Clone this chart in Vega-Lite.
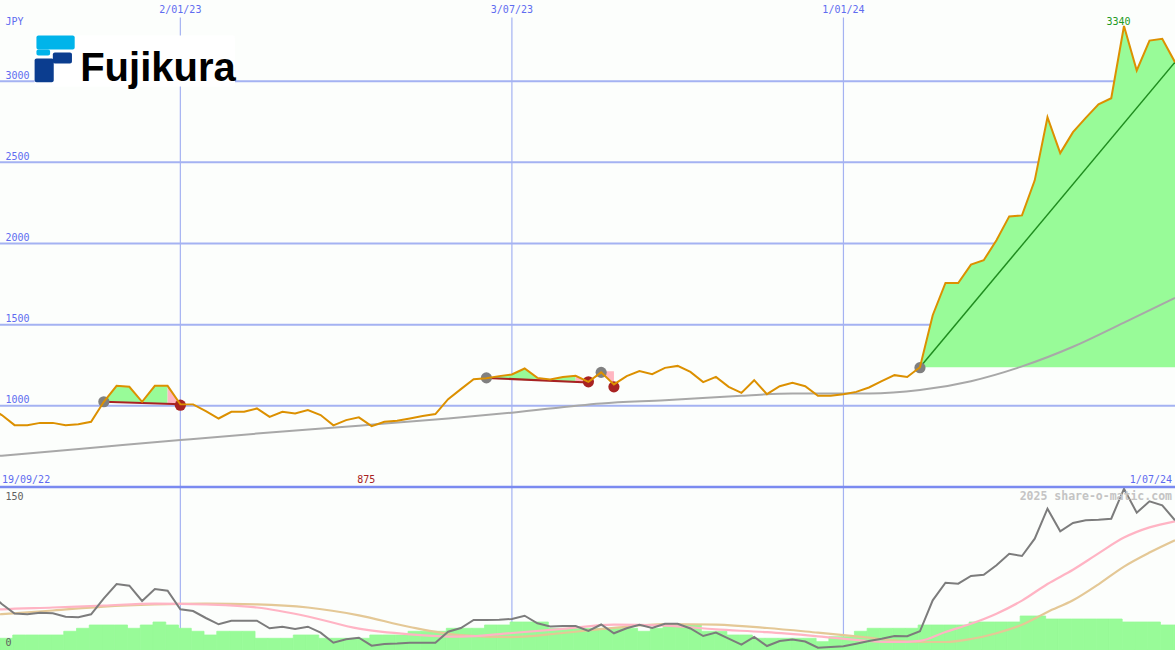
{
  "$schema": "https://vega.github.io/schema/vega-lite/v6.json",
  "width": 1175,
  "height": 650,
  "autosize": {"type": "none"},
  "padding": 0,
  "background": "#fcfefc",
  "config": {"view": {"stroke": null}},
  "datasets": {
    "w": [
      {"d":"2022-09-19","p":990,"g":57},{"d":"2022-09-26","p":943,"g":46},{"d":"2022-10-03","p":881,"g":36.5},{"d":"2022-10-10","p":881,"g":35.7},
      {"d":"2022-10-17","p":895,"g":37.3},{"d":"2022-10-24","p":895,"g":36.7},{"d":"2022-10-31","p":880,"g":33.3},{"d":"2022-11-07","p":887,"g":32.7},
      {"d":"2022-11-14","p":902,"g":35.7},{"d":"2022-11-21","p":1025,"g":51.7},{"d":"2022-11-28","p":1123,"g":66},{"d":"2022-12-05","p":1117,"g":64.3},
      {"d":"2022-12-12","p":1025,"g":49},{"d":"2022-12-19","p":1123,"g":61},{"d":"2022-12-26","p":1123,"g":59.3},{"d":"2023-01-02","p":1010,"g":40.7},
      {"d":"2023-01-09","p":1009,"g":39},{"d":"2023-01-16","p":967,"g":32},{"d":"2023-01-23","p":922,"g":25.7},{"d":"2023-01-30","p":963,"g":29.3},
      {"d":"2023-02-06","p":963,"g":29.3},{"d":"2023-02-13","p":984,"g":29.3},{"d":"2023-02-20","p":932,"g":21.7},{"d":"2023-02-27","p":963,"g":23.3},
      {"d":"2023-03-06","p":953,"g":21},{"d":"2023-03-13","p":974,"g":23.3},{"d":"2023-03-20","p":943,"g":17.3},{"d":"2023-03-27","p":880,"g":7.3},
      {"d":"2023-04-03","p":912,"g":10.7},{"d":"2023-04-10","p":929,"g":12.3},{"d":"2023-04-17","p":875,"g":4.3},{"d":"2023-04-24","p":902,"g":6},
      {"d":"2023-05-01","p":908,"g":6.5},{"d":"2023-05-08","p":922,"g":7.3},{"d":"2023-05-15","p":937,"g":7.3},{"d":"2023-05-22","p":949,"g":7.3},
      {"d":"2023-05-29","p":1041,"g":18.3},{"d":"2023-06-05","p":1103,"g":22},{"d":"2023-06-12","p":1164,"g":30},{"d":"2023-06-19","p":1170,"g":30},
      {"d":"2023-06-26","p":1183,"g":30.3},{"d":"2023-07-03","p":1193,"g":31},{"d":"2023-07-10","p":1230,"g":34.3},{"d":"2023-07-17","p":1172,"g":26.7},
      {"d":"2023-07-24","p":1162,"g":23.5},{"d":"2023-07-31","p":1178,"g":24},{"d":"2023-08-07","p":1185,"g":24},{"d":"2023-08-14","p":1148,"g":19},
      {"d":"2023-08-21","p":1206,"g":25.5},{"d":"2023-08-28","p":1132,"g":16.7},{"d":"2023-09-04","p":1183,"g":21.7},{"d":"2023-09-11","p":1214,"g":25.3},
      {"d":"2023-09-18","p":1195,"g":22},{"d":"2023-09-25","p":1234,"g":26.3},{"d":"2023-10-02","p":1246,"g":26.3},{"d":"2023-10-09","p":1209,"g":21.5},
      {"d":"2023-10-16","p":1146,"g":14},{"d":"2023-10-23","p":1178,"g":17.5},{"d":"2023-10-30","p":1117,"g":11.3},{"d":"2023-11-06","p":1080,"g":5.3},
      {"d":"2023-11-13","p":1158,"g":13},{"d":"2023-11-20","p":1072,"g":4},{"d":"2023-11-27","p":1121,"g":9},{"d":"2023-12-04","p":1142,"g":10.5},
      {"d":"2023-12-11","p":1121,"g":8.5},{"d":"2023-12-18","p":1062,"g":2.3},{"d":"2023-12-25","p":1062,"g":3},{"d":"2024-01-01","p":1072,"g":3.7},
      {"d":"2024-01-08","p":1086,"g":6.3},{"d":"2024-01-15","p":1113,"g":9},{"d":"2024-01-22","p":1152,"g":11.3},{"d":"2024-01-29","p":1189,"g":14},
      {"d":"2024-02-05","p":1178,"g":13.7},{"d":"2024-02-12","p":1238,"g":18.7},{"d":"2024-02-19","p":1558,"g":49.7},{"d":"2024-02-26","p":1757,"g":67.3},
      {"d":"2024-03-04","p":1757,"g":66.3},{"d":"2024-03-11","p":1870,"g":74},{"d":"2024-03-18","p":1897,"g":75.3},{"d":"2024-03-25","p":2020,"g":84.7},
      {"d":"2024-04-01","p":2167,"g":96.3},{"d":"2024-04-08","p":2173,"g":94},{"d":"2024-04-15","p":2389,"g":111.3},{"d":"2024-04-22","p":2778,"g":141.3},
      {"d":"2024-04-29","p":2557,"g":118.7},{"d":"2024-05-06","p":2686,"g":127},{"d":"2024-05-13","p":2774,"g":129.7},{"d":"2024-05-20","p":2857,"g":130.3},
      {"d":"2024-05-27","p":2895,"g":131.3},{"d":"2024-06-03","p":3340,"g":161.3},{"d":"2024-06-10","p":3066,"g":137.3},{"d":"2024-06-17","p":3250,"g":148.7},
      {"d":"2024-06-24","p":3261,"g":144.7},{"d":"2024-07-01","p":3117,"g":129.7}
    ],
    "vg": [
      {"d":"2023-01-02","t":"2/01/23"},{"d":"2023-07-03","t":"3/07/23"},{"d":"2024-01-01","t":"1/01/24"}
    ]
  },
  "layer": [
    {
      "data": {"values": [{"p":1000},{"p":1500},{"p":2000},{"p":2500},{"p":3000}]},
      "mark": {"type": "rule", "color": "#a4b2f2", "strokeWidth": 2},
      "encoding": {
        "y": {"field": "p", "type": "quantitative", "scale": {"domain": [500, 3500], "range": [487, 0], "nice": false, "zero": false}, "axis": null}
      }
    },
    {
      "data": {"name": "vg"},
      "mark": {"type": "rule", "color": "#a4b2f2", "strokeWidth": 1.2},
      "encoding": {
        "x": {"field": "d", "type": "temporal", "scale": {"type": "utc", "domain": [{"year":2022,"month":9,"date":25,"utc":true},{"year":2024,"month":7,"date":1,"utc":true}]}, "axis": null},
        "y": {"datum": 3392, "type": "quantitative", "scale": {"domain": [500, 3500], "range": [487, 0], "nice": false, "zero": false}, "axis": null},
        "y2": {"datum": 500}
      }
    },
    {
      "data": {"name": "vg"},
      "mark": {"type": "rule", "color": "#a4b2f2", "strokeWidth": 1.2},
      "encoding": {
        "x": {"field": "d", "type": "temporal", "scale": {"type": "utc", "domain": [{"year":2022,"month":9,"date":25,"utc":true},{"year":2024,"month":7,"date":1,"utc":true}]}, "axis": null},
        "y": {"datum": 0, "type": "quantitative", "scale": {"domain": [0, 163], "range": [650, 487], "nice": false, "zero": false}, "axis": null},
        "y2": {"datum": 163}
      }
    },
    {
      "data": {
        "values": [
          {"s":"2022-09-25","e":"2022-10-02","v":11.7},{"s":"2022-10-02","e":"2022-10-09","v":15},{"s":"2022-10-09","e":"2022-10-16","v":15},
          {"s":"2022-10-16","e":"2022-10-23","v":15},{"s":"2022-10-23","e":"2022-10-30","v":15},{"s":"2022-10-30","e":"2022-11-06","v":18.7},
          {"s":"2022-11-06","e":"2022-11-13","v":21.7},{"s":"2022-11-13","e":"2022-11-20","v":25},{"s":"2022-11-20","e":"2022-11-27","v":25},
          {"s":"2022-11-27","e":"2022-12-04","v":25},{"s":"2022-12-04","e":"2022-12-11","v":21.7},{"s":"2022-12-11","e":"2022-12-18","v":25},
          {"s":"2022-12-18","e":"2022-12-25","v":28},{"s":"2022-12-25","e":"2023-01-01","v":25},{"s":"2023-01-01","e":"2023-01-08","v":21.7},
          {"s":"2023-01-08","e":"2023-01-15","v":18.7},{"s":"2023-01-15","e":"2023-01-22","v":15},{"s":"2023-01-22","e":"2023-01-29","v":18.7},
          {"s":"2023-01-29","e":"2023-02-05","v":18.7},{"s":"2023-02-05","e":"2023-02-12","v":18.7},{"s":"2023-02-12","e":"2023-02-19","v":11.7},
          {"s":"2023-02-19","e":"2023-02-26","v":11.7},{"s":"2023-02-26","e":"2023-03-05","v":11.7},{"s":"2023-03-05","e":"2023-03-12","v":15},
          {"s":"2023-03-12","e":"2023-03-19","v":15},{"s":"2023-03-19","e":"2023-03-26","v":11.7},{"s":"2023-03-26","e":"2023-04-02","v":11.7},
          {"s":"2023-04-02","e":"2023-04-09","v":11.7},{"s":"2023-04-09","e":"2023-04-16","v":11.7},{"s":"2023-04-16","e":"2023-04-23","v":15},
          {"s":"2023-04-23","e":"2023-04-30","v":15},{"s":"2023-04-30","e":"2023-05-07","v":15},{"s":"2023-05-07","e":"2023-05-14","v":18.7},
          {"s":"2023-05-14","e":"2023-05-21","v":18.7},{"s":"2023-05-21","e":"2023-05-28","v":18.7},{"s":"2023-05-28","e":"2023-06-04","v":21.7},
          {"s":"2023-06-04","e":"2023-06-11","v":21.7},{"s":"2023-06-11","e":"2023-06-18","v":21.7},{"s":"2023-06-18","e":"2023-06-25","v":25},
          {"s":"2023-06-25","e":"2023-07-02","v":25},{"s":"2023-07-02","e":"2023-07-09","v":28},{"s":"2023-07-09","e":"2023-07-16","v":28},
          {"s":"2023-07-16","e":"2023-07-23","v":28},{"s":"2023-07-23","e":"2023-07-30","v":21.7},{"s":"2023-07-30","e":"2023-08-06","v":21.7},
          {"s":"2023-08-06","e":"2023-08-13","v":21.7},{"s":"2023-08-13","e":"2023-08-20","v":21.7},{"s":"2023-08-20","e":"2023-08-27","v":21.7},
          {"s":"2023-08-27","e":"2023-09-03","v":21.7},{"s":"2023-09-03","e":"2023-09-10","v":21.7},{"s":"2023-09-10","e":"2023-09-17","v":18.7},
          {"s":"2023-09-17","e":"2023-09-24","v":21.7},{"s":"2023-09-24","e":"2023-10-01","v":25},{"s":"2023-10-01","e":"2023-10-08","v":25},
          {"s":"2023-10-08","e":"2023-10-15","v":25},{"s":"2023-10-15","e":"2023-10-22","v":18.7},{"s":"2023-10-22","e":"2023-10-29","v":18.7},
          {"s":"2023-10-29","e":"2023-11-05","v":15},{"s":"2023-11-05","e":"2023-11-12","v":15},{"s":"2023-11-12","e":"2023-11-19","v":11.7},
          {"s":"2023-11-19","e":"2023-11-26","v":11.7},{"s":"2023-11-26","e":"2023-12-03","v":11.7},{"s":"2023-12-03","e":"2023-12-10","v":11.7},
          {"s":"2023-12-10","e":"2023-12-17","v":11.7},{"s":"2023-12-17","e":"2023-12-24","v":8.3},{"s":"2023-12-24","e":"2023-12-31","v":13.3},
          {"s":"2023-12-31","e":"2024-01-07","v":13.3},{"s":"2024-01-07","e":"2024-01-14","v":18.7},{"s":"2024-01-14","e":"2024-01-21","v":21.7},
          {"s":"2024-01-21","e":"2024-01-28","v":21.7},{"s":"2024-01-28","e":"2024-02-04","v":21.7},{"s":"2024-02-04","e":"2024-02-11","v":21.7},
          {"s":"2024-02-11","e":"2024-02-18","v":25},{"s":"2024-02-18","e":"2024-02-25","v":25},{"s":"2024-02-25","e":"2024-03-03","v":25},
          {"s":"2024-03-03","e":"2024-03-10","v":25},{"s":"2024-03-10","e":"2024-03-17","v":28},{"s":"2024-03-17","e":"2024-03-24","v":28},
          {"s":"2024-03-24","e":"2024-03-31","v":28},{"s":"2024-03-31","e":"2024-04-07","v":28},{"s":"2024-04-07","e":"2024-04-14","v":34},
          {"s":"2024-04-14","e":"2024-04-21","v":34},{"s":"2024-04-21","e":"2024-04-28","v":31},{"s":"2024-04-28","e":"2024-05-05","v":31},
          {"s":"2024-05-05","e":"2024-05-12","v":31},{"s":"2024-05-12","e":"2024-05-19","v":31},{"s":"2024-05-19","e":"2024-05-26","v":31},
          {"s":"2024-05-26","e":"2024-06-02","v":31},{"s":"2024-06-02","e":"2024-06-09","v":28},{"s":"2024-06-09","e":"2024-06-16","v":28},
          {"s":"2024-06-16","e":"2024-06-23","v":28},{"s":"2024-06-23","e":"2024-06-30","v":25},{"s":"2024-06-30","e":"2024-07-07","v":25}
        ],
        "format": {"parse": {"s": "date", "e": "date"}}
      },
      "mark": {"type": "rect", "color": "#98fb98", "stroke": "#98fb98", "strokeWidth": 0.8},
      "encoding": {
        "x": {"field": "s", "type": "temporal", "scale": {"type": "utc", "domain": [{"year":2022,"month":9,"date":25,"utc":true},{"year":2024,"month":7,"date":1,"utc":true}]}, "axis": null},
        "x2": {"field": "e"},
        "y": {"field": "v", "type": "quantitative", "scale": {"domain": [0, 163], "range": [650, 487], "nice": false, "zero": false}, "axis": null},
        "y2": {"datum": 0}
      }
    },
    {
      "data": {
        "values": [
          {"d":"2022-09-19","pk":40,"tn":35},{"d":"2022-09-26","pk":40.7,"tn":35.9},{"d":"2022-10-24","pk":42.5,"tn":39.5},
          {"d":"2022-11-21","pk":44.5,"tn":43.4},{"d":"2022-12-19","pk":46.4,"tn":45.5},{"d":"2023-01-16","pk":45.5,"tn":46.3},
          {"d":"2023-02-13","pk":42.5,"tn":45.6},{"d":"2023-03-13","pk":33.5,"tn":42.5},{"d":"2023-04-10","pk":21.3,"tn":34.7},
          {"d":"2023-05-08","pk":15.6,"tn":23},{"d":"2023-06-05","pk":13.3,"tn":14.8},{"d":"2023-07-03","pk":17,"tn":12.9},
          {"d":"2023-07-31","pk":21.1,"tn":17},{"d":"2023-08-28","pk":25.3,"tn":22.2},{"d":"2023-09-25","pk":24.4,"tn":26},
          {"d":"2023-10-23","pk":20.6,"tn":25.3},{"d":"2023-11-20","pk":17.8,"tn":22},{"d":"2023-12-18","pk":13.7,"tn":17.3},
          {"d":"2024-01-15","pk":9,"tn":12.3},{"d":"2024-01-29","pk":8,"tn":9.6},{"d":"2024-02-12","pk":9.2,"tn":8},
          {"d":"2024-02-26","pk":18,"tn":8},{"d":"2024-03-11","pk":26.2,"tn":11},{"d":"2024-03-25","pk":36.3,"tn":16.8},
          {"d":"2024-04-08","pk":49.4,"tn":25.3},{"d":"2024-04-22","pk":66,"tn":38.1},{"d":"2024-05-06","pk":80.3,"tn":49.7},
          {"d":"2024-05-20","pk":96.6,"tn":65.7},{"d":"2024-06-03","pk":112.4,"tn":83.4},{"d":"2024-06-17","pk":122.6,"tn":97.4},
          {"d":"2024-07-01","pk":128.7,"tn":109.7}
        ]
      },
      "layer": [
        {
          "mark": {"type": "line", "color": "#e4c896", "strokeWidth": 2.2, "interpolate": "monotone"},
          "encoding": {
            "x": {"field": "d", "type": "temporal", "scale": {"type": "utc", "domain": [{"year":2022,"month":9,"date":25,"utc":true},{"year":2024,"month":7,"date":1,"utc":true}]}, "axis": null},
            "y": {"field": "tn", "type": "quantitative", "scale": {"domain": [0, 163], "range": [650, 487], "nice": false, "zero": false}, "axis": null}
          }
        },
        {
          "mark": {"type": "line", "color": "#ffb4c4", "strokeWidth": 2.2, "interpolate": "monotone"},
          "encoding": {
            "x": {"field": "d", "type": "temporal", "scale": {"type": "utc", "domain": [{"year":2022,"month":9,"date":25,"utc":true},{"year":2024,"month":7,"date":1,"utc":true}]}, "axis": null},
            "y": {"field": "pk", "type": "quantitative", "scale": {"domain": [0, 163], "range": [650, 487], "nice": false, "zero": false}, "axis": null}
          }
        }
      ],
      "resolve": {"scale": {"y": "independent"}}
    },
    {
      "data": {"name": "w"},
      "mark": {"type": "line", "color": "#7c7c7c", "strokeWidth": 2},
      "encoding": {
        "x": {"field": "d", "type": "temporal", "scale": {"type": "utc", "domain": [{"year":2022,"month":9,"date":25,"utc":true},{"year":2024,"month":7,"date":1,"utc":true}]}, "axis": null},
        "y": {"field": "g", "type": "quantitative", "scale": {"domain": [0, 163], "range": [650, 487], "nice": false, "zero": false}, "axis": null}
      }
    },
    {
      "data": {"values": [{"t": "boundary"}]},
      "mark": {"type": "rule", "color": "#7a8af0", "strokeWidth": 2.5},
      "encoding": {
        "y": {"datum": 500, "type": "quantitative", "scale": {"domain": [500, 3500], "range": [487, 0], "nice": false, "zero": false}, "axis": null}
      }
    },
    {
      "data": {
        "values": [
          {"d":"2022-11-21","p":1025,"b":1025,"grp":"A","dir":"up"},{"d":"2022-11-28","p":1123,"b":1025,"grp":"A","dir":"up"},
          {"d":"2022-12-05","p":1117,"b":1022,"grp":"A","dir":"up"},{"d":"2022-12-12","p":1025,"b":1018,"grp":"A","dir":"up"},
          {"d":"2022-12-19","p":1123,"b":1012,"grp":"A","dir":"up"},{"d":"2022-12-26","p":1123,"b":1012,"grp":"A","dir":"up"},
          {"d":"2022-12-26","p":1123,"b":1012,"grp":"B","dir":"down"},{"d":"2023-01-02","p":1010,"b":1009,"grp":"B","dir":"down"},
          {"d":"2023-06-19","p":1170,"b":1170,"grp":"C","dir":"up"},{"d":"2023-06-26","p":1183,"b":1164,"grp":"C","dir":"up"},
          {"d":"2023-07-03","p":1193,"b":1164,"grp":"C","dir":"up"},{"d":"2023-07-10","p":1230,"b":1158,"grp":"C","dir":"up"},
          {"d":"2023-07-17","p":1172,"b":1158,"grp":"C","dir":"up"},
          {"d":"2023-07-17","p":1172,"b":1158,"grp":"D","dir":"down"},{"d":"2023-07-24","p":1162,"b":1152,"grp":"D","dir":"down"},
          {"d":"2023-07-24","p":1162,"b":1152,"grp":"E","dir":"up"},{"d":"2023-07-31","p":1178,"b":1152,"grp":"E","dir":"up"},
          {"d":"2023-08-07","p":1185,"b":1146,"grp":"E","dir":"up"},
          {"d":"2023-08-07","p":1185,"b":1146,"grp":"F","dir":"down"},{"d":"2023-08-14","p":1148,"b":1144,"grp":"F","dir":"down"},
          {"d":"2023-08-21","p":1206,"b":1213,"grp":"G","dir":"down"},{"d":"2023-08-28","p":1132,"b":1213,"grp":"G","dir":"down"},
          {"d":"2024-02-12","p":1238,"b":1238,"grp":"H","dir":"up"},{"d":"2024-02-19","p":1558,"b":1238,"grp":"H","dir":"up"},
          {"d":"2024-02-26","p":1757,"b":1238,"grp":"H","dir":"up"},{"d":"2024-03-04","p":1757,"b":1238,"grp":"H","dir":"up"},
          {"d":"2024-03-11","p":1870,"b":1238,"grp":"H","dir":"up"},{"d":"2024-03-18","p":1897,"b":1238,"grp":"H","dir":"up"},
          {"d":"2024-03-25","p":2020,"b":1238,"grp":"H","dir":"up"},{"d":"2024-04-01","p":2167,"b":1238,"grp":"H","dir":"up"},
          {"d":"2024-04-08","p":2173,"b":1238,"grp":"H","dir":"up"},{"d":"2024-04-15","p":2389,"b":1238,"grp":"H","dir":"up"},
          {"d":"2024-04-22","p":2778,"b":1238,"grp":"H","dir":"up"},{"d":"2024-04-29","p":2557,"b":1238,"grp":"H","dir":"up"},
          {"d":"2024-05-06","p":2686,"b":1238,"grp":"H","dir":"up"},{"d":"2024-05-13","p":2774,"b":1238,"grp":"H","dir":"up"},
          {"d":"2024-05-20","p":2857,"b":1238,"grp":"H","dir":"up"},{"d":"2024-05-27","p":2895,"b":1238,"grp":"H","dir":"up"},
          {"d":"2024-06-03","p":3340,"b":1238,"grp":"H","dir":"up"},{"d":"2024-06-10","p":3066,"b":1238,"grp":"H","dir":"up"},
          {"d":"2024-06-17","p":3250,"b":1238,"grp":"H","dir":"up"},{"d":"2024-06-24","p":3261,"b":1238,"grp":"H","dir":"up"},
          {"d":"2024-07-01","p":3117,"b":1238,"grp":"H","dir":"up"}
        ]
      },
      "mark": {"type": "area", "opacity": 1},
      "encoding": {
        "x": {"field": "d", "type": "temporal", "scale": {"type": "utc", "domain": [{"year":2022,"month":9,"date":25,"utc":true},{"year":2024,"month":7,"date":1,"utc":true}]}, "axis": null},
        "y": {"field": "p", "type": "quantitative", "stack": null, "scale": {"domain": [500, 3500], "range": [487, 0], "nice": false, "zero": false}, "axis": null},
        "y2": {"field": "b"},
        "color": {"field": "dir", "type": "nominal", "scale": {"domain": ["up", "down"], "range": ["#98fb98", "#ffb6c1"]}, "legend": null},
        "detail": {"field": "grp"}
      }
    },
    {
      "data": {
        "values": [
          {"d":"2022-09-19","v":686},{"d":"2022-09-26","v":693},{"d":"2022-11-21","v":748},{"d":"2023-01-02","v":789},
          {"d":"2023-02-13","v":829},{"d":"2023-04-10","v":878},{"d":"2023-05-29","v":922},{"d":"2023-07-03","v":958},
          {"d":"2023-08-21","v":1015},{"d":"2023-09-25","v":1035},{"d":"2023-11-06","v":1062},{"d":"2023-12-04","v":1076},
          {"d":"2024-01-15","v":1076},{"d":"2024-02-12","v":1097},{"d":"2024-03-11","v":1152},{"d":"2024-04-08","v":1243},
          {"d":"2024-05-06","v":1364},{"d":"2024-06-03","v":1513},{"d":"2024-07-01","v":1665}
        ]
      },
      "mark": {"type": "line", "color": "#a8a8a8", "strokeWidth": 2, "interpolate": "monotone"},
      "encoding": {
        "x": {"field": "d", "type": "temporal", "scale": {"type": "utc", "domain": [{"year":2022,"month":9,"date":25,"utc":true},{"year":2024,"month":7,"date":1,"utc":true}]}, "axis": null},
        "y": {"field": "v", "type": "quantitative", "scale": {"domain": [500, 3500], "range": [487, 0], "nice": false, "zero": false}, "axis": null}
      }
    },
    {
      "data": {
        "values": [
          {"d":"2022-11-21","v":1025,"grp":"t1"},{"d":"2023-01-02","v":1009,"grp":"t1"},
          {"d":"2023-06-19","v":1172,"grp":"t2"},{"d":"2023-08-14","v":1144,"grp":"t2"}
        ]
      },
      "mark": {"type": "line", "color": "#a82222", "strokeWidth": 2},
      "encoding": {
        "x": {"field": "d", "type": "temporal", "scale": {"type": "utc", "domain": [{"year":2022,"month":9,"date":25,"utc":true},{"year":2024,"month":7,"date":1,"utc":true}]}, "axis": null},
        "y": {"field": "v", "type": "quantitative", "scale": {"domain": [500, 3500], "range": [487, 0], "nice": false, "zero": false}, "axis": null},
        "detail": {"field": "grp"}
      }
    },
    {
      "data": {"values": [{"d":"2024-02-12","v":1238},{"d":"2024-07-01","v":3117}]},
      "mark": {"type": "line", "color": "#1f8c1f", "strokeWidth": 1.5},
      "encoding": {
        "x": {"field": "d", "type": "temporal", "scale": {"type": "utc", "domain": [{"year":2022,"month":9,"date":25,"utc":true},{"year":2024,"month":7,"date":1,"utc":true}]}, "axis": null},
        "y": {"field": "v", "type": "quantitative", "scale": {"domain": [500, 3500], "range": [487, 0], "nice": false, "zero": false}, "axis": null}
      }
    },
    {
      "data": {
        "values": [
          {"d":"2022-11-21","v":1025,"kind":"buy"},{"d":"2023-06-19","v":1172,"kind":"buy"},{"d":"2023-08-21","v":1206,"kind":"buy"},
          {"d":"2024-02-12","v":1235,"kind":"buy"},{"d":"2023-01-02","v":1004,"kind":"sell"},{"d":"2023-08-14","v":1148,"kind":"sell"},
          {"d":"2023-08-28","v":1117,"kind":"sell"}
        ]
      },
      "mark": {"type": "circle", "size": 125, "opacity": 1},
      "encoding": {
        "x": {"field": "d", "type": "temporal", "scale": {"type": "utc", "domain": [{"year":2022,"month":9,"date":25,"utc":true},{"year":2024,"month":7,"date":1,"utc":true}]}, "axis": null},
        "y": {"field": "v", "type": "quantitative", "scale": {"domain": [500, 3500], "range": [487, 0], "nice": false, "zero": false}, "axis": null},
        "color": {"field": "kind", "type": "nominal", "scale": {"domain": ["buy", "sell"], "range": ["#808080", "#a82222"]}, "legend": null}
      }
    },
    {
      "data": {"name": "w"},
      "mark": {"type": "line", "color": "#dc9000", "strokeWidth": 2},
      "encoding": {
        "x": {"field": "d", "type": "temporal", "scale": {"type": "utc", "domain": [{"year":2022,"month":9,"date":25,"utc":true},{"year":2024,"month":7,"date":1,"utc":true}]}, "axis": null},
        "y": {"field": "p", "type": "quantitative", "scale": {"domain": [500, 3500], "range": [487, 0], "nice": false, "zero": false}, "axis": null}
      }
    },
    {
      "data": {
        "values": [
          {"d":"2022-10-14","d2":"2023-02-01","p":2967,"p2":3281,"part":"box"},
          {"d":"2022-10-15","d2":"2022-11-05","p":3195,"p2":3281,"part":"cyan"},
          {"d":"2022-10-15","d2":"2022-10-22T12:00:00Z","p":3158,"p2":3195,"part":"cyan"},
          {"d":"2022-10-24","d2":"2022-11-03T12:00:00Z","p":3109,"p2":3177,"part":"blue"},
          {"d":"2022-10-14","d2":"2022-10-24T12:00:00Z","p":2994,"p2":3140,"part":"blue"}
        ],
        "format": {"parse": {"d": "date", "d2": "date"}}
      },
      "mark": {"type": "rect", "cornerRadius": 2},
      "encoding": {
        "x": {"field": "d", "type": "temporal", "scale": {"type": "utc", "domain": [{"year":2022,"month":9,"date":25,"utc":true},{"year":2024,"month":7,"date":1,"utc":true}]}, "axis": null},
        "x2": {"field": "d2"},
        "y": {"field": "p", "type": "quantitative", "scale": {"domain": [500, 3500], "range": [487, 0], "nice": false, "zero": false}, "axis": null},
        "y2": {"field": "p2"},
        "color": {"field": "part", "type": "nominal", "scale": {"domain": ["box", "cyan", "blue"], "range": ["#ffffff", "#00b4ea", "#0b3d8f"]}, "legend": null}
      }
    },
    {
      "data": {"values": [{"t":"Fujikura","d":"2022-11-08","p":3004}]},
      "mark": {"type": "text", "align": "left", "baseline": "alphabetic", "font": "Liberation Sans", "fontWeight": "bold", "fontSize": 40, "color": "#000000"},
      "encoding": {
        "x": {"field": "d", "type": "temporal", "scale": {"type": "utc", "domain": [{"year":2022,"month":9,"date":25,"utc":true},{"year":2024,"month":7,"date":1,"utc":true}]}, "axis": null},
        "y": {"field": "p", "type": "quantitative", "scale": {"domain": [500, 3500], "range": [487, 0], "nice": false, "zero": false}, "axis": null},
        "text": {"field": "t"}
      }
    },
    {
      "data": {"values": [{"p":1000},{"p":1500},{"p":2000},{"p":2500},{"p":3000}]},
      "mark": {"type": "text", "align": "left", "baseline": "alphabetic", "dy": -2.5, "font": "DejaVu Sans Mono", "fontSize": 10, "color": "#5f6cf0"},
      "encoding": {
        "x": {"datum": {"year":2022,"month":9,"date":28,"utc":true}, "type": "temporal", "scale": {"type": "utc", "domain": [{"year":2022,"month":9,"date":25,"utc":true},{"year":2024,"month":7,"date":1,"utc":true}]}, "axis": null},
        "y": {"field": "p", "type": "quantitative", "scale": {"domain": [500, 3500], "range": [487, 0], "nice": false, "zero": false}, "axis": null},
        "text": {"field": "p", "type": "quantitative", "format": "d"}
      }
    },
    {
      "data": {"values": [{"t":"JPY"}]},
      "mark": {"type": "text", "align": "left", "baseline": "alphabetic", "font": "DejaVu Sans Mono", "fontSize": 10, "color": "#5f6cf0"},
      "encoding": {
        "x": {"datum": {"year":2022,"month":9,"date":28,"utc":true}, "type": "temporal", "scale": {"type": "utc", "domain": [{"year":2022,"month":9,"date":25,"utc":true},{"year":2024,"month":7,"date":1,"utc":true}]}, "axis": null},
        "y": {"datum": 3343, "type": "quantitative", "scale": {"domain": [500, 3500], "range": [487, 0], "nice": false, "zero": false}, "axis": null},
        "text": {"field": "t"}
      }
    },
    {
      "data": {"name": "vg"},
      "mark": {"type": "text", "align": "center", "baseline": "alphabetic", "font": "DejaVu Sans Mono", "fontSize": 10, "color": "#5f6cf0"},
      "encoding": {
        "x": {"field": "d", "type": "temporal", "scale": {"type": "utc", "domain": [{"year":2022,"month":9,"date":25,"utc":true},{"year":2024,"month":7,"date":1,"utc":true}]}, "axis": null},
        "y": {"datum": 3418, "type": "quantitative", "scale": {"domain": [500, 3500], "range": [487, 0], "nice": false, "zero": false}, "axis": null},
        "text": {"field": "t"}
      }
    },
    {
      "data": {"values": [{"t":"19/09/22"}]},
      "mark": {"type": "text", "align": "left", "baseline": "alphabetic", "dx": 2, "font": "DejaVu Sans Mono", "fontSize": 10, "color": "#5f6cf0"},
      "encoding": {
        "x": {"datum": {"year":2022,"month":9,"date":25,"utc":true}, "type": "temporal", "scale": {"type": "utc", "domain": [{"year":2022,"month":9,"date":25,"utc":true},{"year":2024,"month":7,"date":1,"utc":true}]}, "axis": null},
        "y": {"datum": 522, "type": "quantitative", "scale": {"domain": [500, 3500], "range": [487, 0], "nice": false, "zero": false}, "axis": null},
        "text": {"field": "t"}
      }
    },
    {
      "data": {"values": [{"t":"1/07/24"}]},
      "mark": {"type": "text", "align": "right", "baseline": "alphabetic", "dx": -3, "font": "DejaVu Sans Mono", "fontSize": 10, "color": "#5f6cf0"},
      "encoding": {
        "x": {"datum": {"year":2024,"month":7,"date":1,"utc":true}, "type": "temporal", "scale": {"type": "utc", "domain": [{"year":2022,"month":9,"date":25,"utc":true},{"year":2024,"month":7,"date":1,"utc":true}]}, "axis": null},
        "y": {"datum": 522, "type": "quantitative", "scale": {"domain": [500, 3500], "range": [487, 0], "nice": false, "zero": false}, "axis": null},
        "text": {"field": "t"}
      }
    },
    {
      "data": {"values": [{"t":"875","d":"2023-04-14"}]},
      "mark": {"type": "text", "align": "center", "baseline": "alphabetic", "font": "DejaVu Sans Mono", "fontSize": 10, "color": "#a82222"},
      "encoding": {
        "x": {"field": "d", "type": "temporal", "scale": {"type": "utc", "domain": [{"year":2022,"month":9,"date":25,"utc":true},{"year":2024,"month":7,"date":1,"utc":true}]}, "axis": null},
        "y": {"datum": 522, "type": "quantitative", "scale": {"domain": [500, 3500], "range": [487, 0], "nice": false, "zero": false}, "axis": null},
        "text": {"field": "t"}
      }
    },
    {
      "data": {"values": [{"t":"3340","d":"2024-05-31"}]},
      "mark": {"type": "text", "align": "center", "baseline": "alphabetic", "font": "DejaVu Sans Mono", "fontSize": 10, "color": "#229a22"},
      "encoding": {
        "x": {"field": "d", "type": "temporal", "scale": {"type": "utc", "domain": [{"year":2022,"month":9,"date":25,"utc":true},{"year":2024,"month":7,"date":1,"utc":true}]}, "axis": null},
        "y": {"datum": 3343, "type": "quantitative", "scale": {"domain": [500, 3500], "range": [487, 0], "nice": false, "zero": false}, "axis": null},
        "text": {"field": "t"}
      }
    },
    {
      "data": {"values": [{"t":"150"}]},
      "mark": {"type": "text", "align": "left", "baseline": "alphabetic", "font": "DejaVu Sans Mono", "fontSize": 10, "color": "#606060"},
      "encoding": {
        "x": {"datum": {"year":2022,"month":9,"date":28,"utc":true}, "type": "temporal", "scale": {"type": "utc", "domain": [{"year":2022,"month":9,"date":25,"utc":true},{"year":2024,"month":7,"date":1,"utc":true}]}, "axis": null},
        "y": {"datum": 150, "type": "quantitative", "scale": {"domain": [0, 163], "range": [650, 487], "nice": false, "zero": false}, "axis": null},
        "text": {"field": "t"}
      }
    },
    {
      "data": {"values": [{"t":"0"}]},
      "mark": {"type": "text", "align": "left", "baseline": "alphabetic", "dy": -4, "font": "DejaVu Sans Mono", "fontSize": 10, "color": "#606060"},
      "encoding": {
        "x": {"datum": {"year":2022,"month":9,"date":28,"utc":true}, "type": "temporal", "scale": {"type": "utc", "domain": [{"year":2022,"month":9,"date":25,"utc":true},{"year":2024,"month":7,"date":1,"utc":true}]}, "axis": null},
        "y": {"datum": 0, "type": "quantitative", "scale": {"domain": [0, 163], "range": [650, 487], "nice": false, "zero": false}, "axis": null},
        "text": {"field": "t"}
      }
    },
    {
      "data": {"values": [{"t":"2025 share-o-matic.com"}]},
      "mark": {"type": "text", "align": "right", "baseline": "alphabetic", "dx": -3, "font": "DejaVu Sans Mono", "fontSize": 11.5, "fontWeight": "bold", "color": "#c4c4c4"},
      "encoding": {
        "x": {"datum": {"year":2024,"month":7,"date":1,"utc":true}, "type": "temporal", "scale": {"type": "utc", "domain": [{"year":2022,"month":9,"date":25,"utc":true},{"year":2024,"month":7,"date":1,"utc":true}]}, "axis": null},
        "y": {"datum": 150, "type": "quantitative", "scale": {"domain": [0, 163], "range": [650, 487], "nice": false, "zero": false}, "axis": null},
        "text": {"field": "t"}
      }
    }
  ],
  "resolve": {"scale": {"y": "independent", "color": "independent"}}
}
